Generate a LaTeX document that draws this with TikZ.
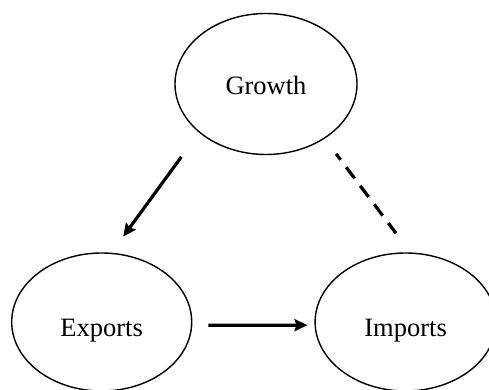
\documentclass[tikz,border=0pt]{standalone}
\usepackage{fontspec}
\setmainfont{Liberation Serif}
\usetikzlibrary{arrows.meta,shapes.geometric}
\begin{document}
\begin{tikzpicture}[x=1pt, y=1pt, font=\fontsize{26.5}{30}\selectfont, line join=round,
		>={Stealth[length=13pt,width=12pt,inset=2pt]},
		var/.style={draw, ellipse, line width=1.4pt, inner sep=0pt, text depth=0pt},
		link/.style={line width=3.2pt}]
	\useasboundingbox (0,0) rectangle (489,390);
	\node[var, minimum width=182pt, minimum height=141pt, text height=22pt] (growth) at (266,306) {Growth};
	\node[var, minimum width=180pt, minimum height=138pt, text height=30pt] (exports) at (101.7,68) {Exports};
	\node[var, minimum width=181pt, minimum height=138pt, text height=30pt] (imports) at (405.6,68) {Imports};
	\draw[link, ->, shorten <=30pt, shorten >=20pt] (growth.216) -- (exports.82);
	\draw[link, dash pattern=on 14pt off 9.3pt, dash phase=6.6pt, shorten <=19pt, shorten >=24pt] (growth.317) -- (imports.86);
	\draw[link, ->, shorten <=16pt, shorten >=7pt] (exports.358) -- (imports.182);
\end{tikzpicture}
\end{document}
